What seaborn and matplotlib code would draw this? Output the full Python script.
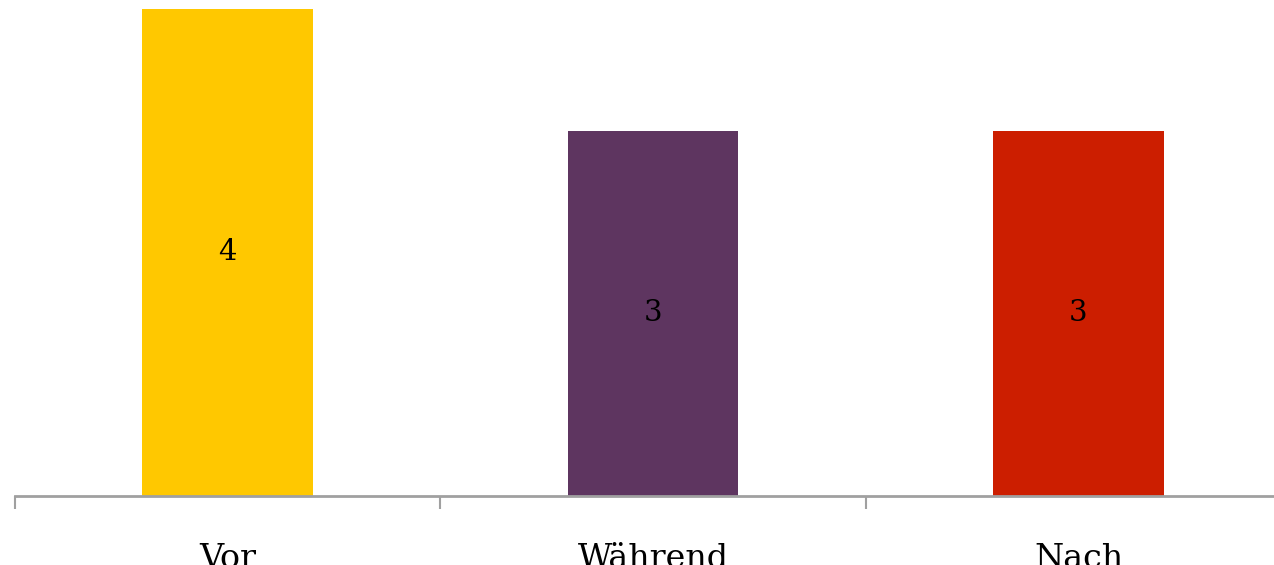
import matplotlib
matplotlib.use("Agg")
import matplotlib.pyplot as plt
import seaborn as sns
import pandas as pd

categories = ["Vor", "Während", "Nach"]
values = [4, 3, 3]
colors = ["#FFC800", "#5E3560", "#CC1E00"]

sns.set_style("white")
plt.rcParams["font.family"] = ["DejaVu Serif", "DejaVu Sans"]

df = pd.DataFrame({"cat": categories, "val": values})

fig = plt.figure(figsize=(12.74, 5.65), dpi=100)
ax = fig.add_axes([14.75 / 1274, 69 / 565, 1276.5 / 1274, 487 / 565])

sns.barplot(data=df, x="cat", y="val", hue="cat", palette=colors,
            width=0.4, saturation=1, legend=False, ax=ax, order=categories,
            linewidth=0)

ax.set_xlim(-0.5, 2.5)
ax.set_ylim(0, 4)
ax.set_xlabel("")
ax.set_ylabel("")
ax.set_yticks([])

for c in ax.containers:
    ax.bar_label(c, labels=[f"{v:g}" for v in c.datavalues], label_type="center",
                 fontsize=21, color="black")

for s in ["top", "left", "right"]:
    ax.spines[s].set_visible(False)
ax.spines["bottom"].set_color("#A0A0A0")
ax.spines["bottom"].set_linewidth(2)

ax.set_xticks([0, 1, 2])
ax.set_xticklabels(categories, fontsize=24, color="black")
ax.set_xticks([-0.5, 0.5, 1.5, 2.5], minor=True)
ax.tick_params(axis="x", which="major", bottom=True, length=0, pad=34)
ax.tick_params(axis="x", which="minor", bottom=True, length=9, width=1.5,
               color="#A0A0A0", direction="out")

fig.savefig("out.png", dpi=100)
